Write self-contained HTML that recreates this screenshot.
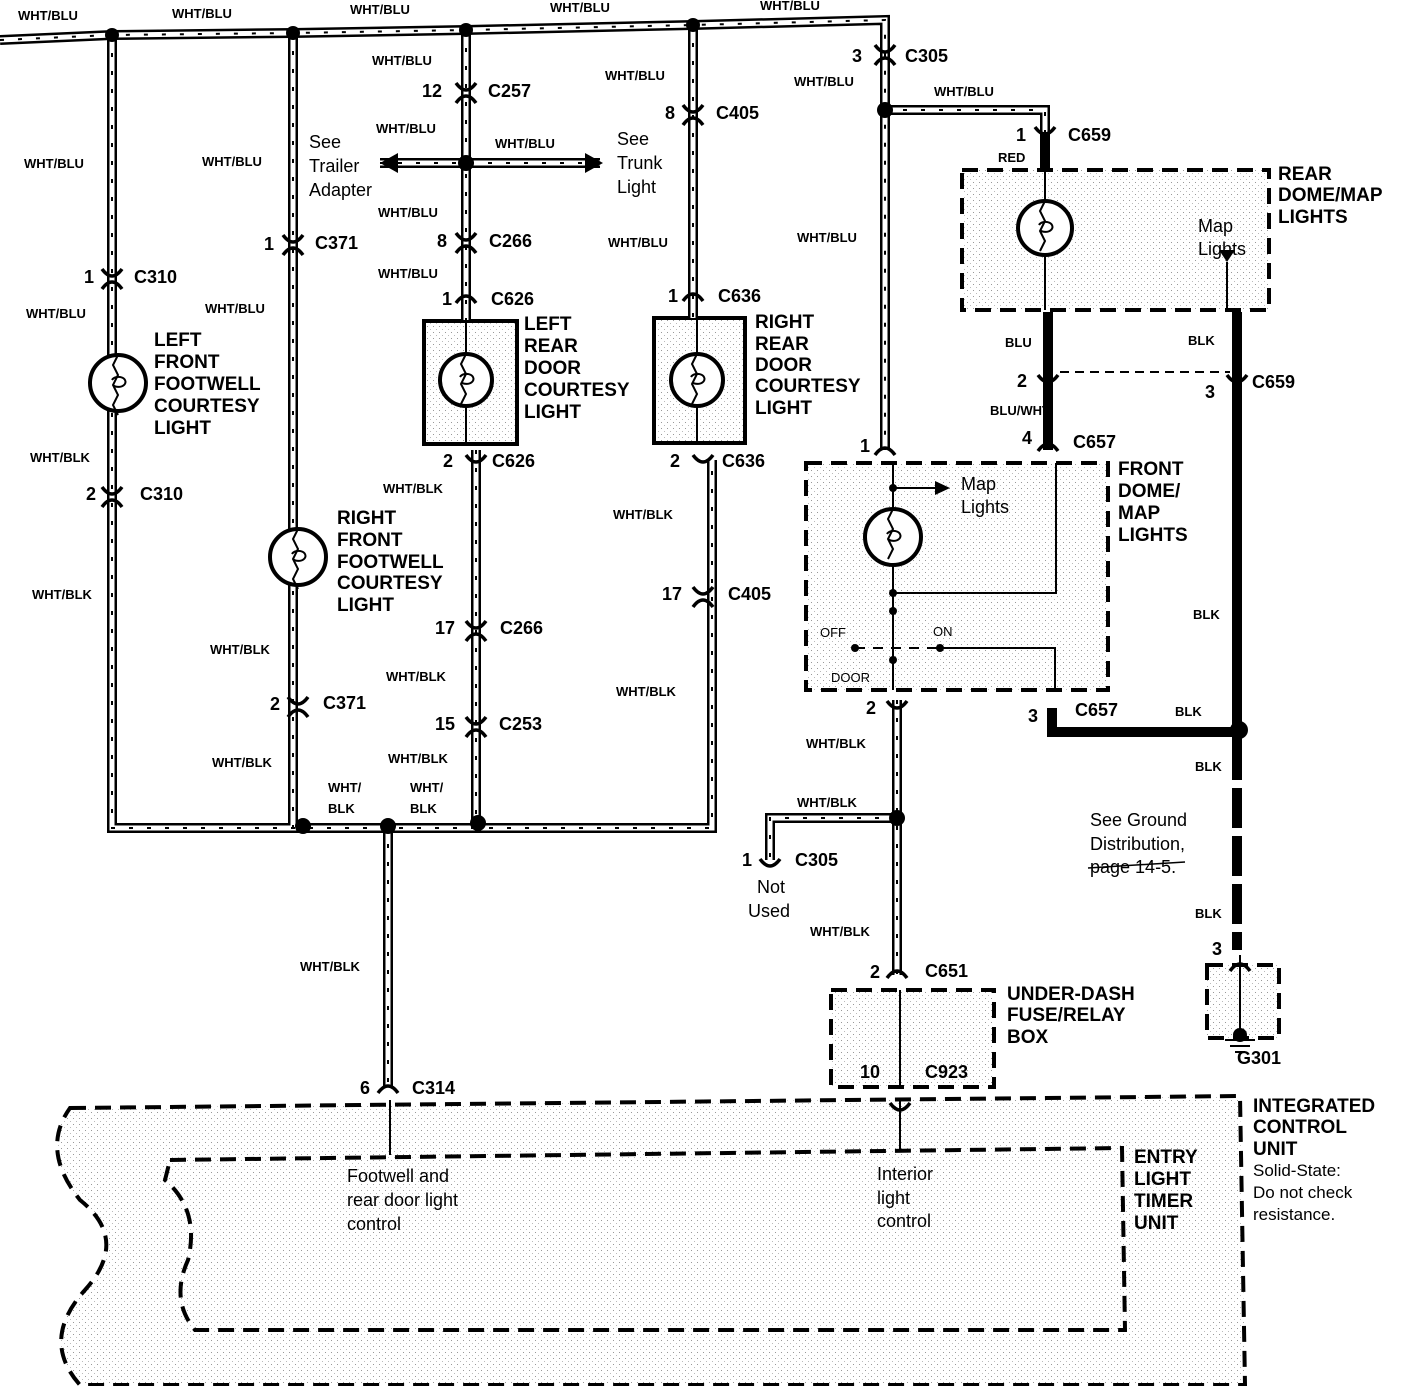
<!DOCTYPE html>
<html><head><meta charset="utf-8"><style>
html,body{margin:0;padding:0;background:#fff}
svg{display:block}
text{font-family:"Liberation Sans",sans-serif;fill:#000}
.wl{font-size:13px;font-weight:bold}
.cn{font-size:18px;font-weight:bold}
.nm{font-size:19px;font-weight:bold}
.nt{font-size:18px}
.w1{fill:none;stroke:#000;stroke-width:10}
.w2{fill:none;stroke:#fff;stroke-width:5}
.w3{fill:none;stroke:#000;stroke-width:2;stroke-dasharray:4 14}
.t{fill:none;stroke:#000;stroke-width:2}
.box{fill:url(#dots);stroke:#000;stroke-width:4;stroke-dasharray:16 9}
.cc{fill:none;stroke:#000;stroke-width:3.5}
</style></head><body>
<svg width="1408" height="1386" viewBox="0 0 1408 1386" xmlns="http://www.w3.org/2000/svg">
<defs>
<pattern id="dots" width="6" height="6" patternUnits="userSpaceOnUse"><rect width="6" height="6" fill="#fff"/><rect x="1" y="2" width="1" height="1" fill="#999"/><rect x="4" y="5" width="1" height="1" fill="#bbb"/></pattern>
<path id="wa" d="M0,40 L112,35 L293,33 L466,30 L693,25 L885,20 L885,450"/>
<path id="wb" d="M112,35 V828 H712 V460"/>
<path id="wc" d="M293,33 V828"/>
<path id="wd" d="M466,30 V320 M476,450 V823"/>
<path id="we" d="M693,25 V318"/>
<path id="wf" d="M885,110 H1045 V135"/>
<path id="wg" d="M897,700 V975 M897,818 H770 V860"/>
<path id="wh" d="M388,826 V1087"/>
<path id="wi" d="M380,163 H600"/>
</defs>

<!-- boxes -->
<path class="box" d="M70,1108 L1240,1096 L1245,1385 L80,1385 Q40,1340 85,1290 Q130,1240 80,1200 Q40,1150 70,1108 Z"/>
<path class="box" d="M170,1160 L1122,1148 L1125,1330 L195,1330 Q170,1300 188,1260 Q200,1210 165,1180 Z"/>
<rect class="box" x="962" y="170" width="307" height="140"/>
<rect class="box" x="806" y="463" width="302" height="227"/>
<rect class="box" x="831" y="990" width="163" height="97"/>
<rect class="box" x="1207" y="965" width="72" height="73"/>
<rect x="424" y="321" width="93" height="123" fill="url(#dots)" stroke="#000" stroke-width="4"/>
<rect x="654" y="318" width="91" height="125" fill="url(#dots)" stroke="#000" stroke-width="4"/>

<!-- wires -->
<g class="w1"><use href="#wa"/><use href="#wb"/><use href="#wc"/><use href="#wd"/><use href="#we"/><use href="#wf"/><use href="#wg"/><use href="#wh"/><use href="#wi"/></g>
<g class="w2"><use href="#wa"/><use href="#wb"/><use href="#wc"/><use href="#wd"/><use href="#we"/><use href="#wf"/><use href="#wg"/><use href="#wh"/><use href="#wi"/></g>
<g class="w3"><use href="#wa"/><use href="#wb"/><use href="#wc"/><use href="#wd"/><use href="#we"/><use href="#wf"/><use href="#wg"/><use href="#wh"/><use href="#wi"/></g>
<polygon points="380,163 398,153 398,173"/><polygon points="603,163 585,153 585,173"/>

<!-- thick black wires -->
<g fill="none" stroke="#000" stroke-width="10">
<path d="M1045,135 V172"/><path d="M1048,312 V450"/><path d="M1237,312 V740"/>
<path d="M1237,740 V950" stroke-dasharray="40 8"/><path d="M1052,708 V732 H1237"/>
</g>
<path d="M1060,372 H1230" class="t" stroke-dasharray="9 6"/>

<!-- thin internal lines -->
<g class="t">
<path d="M1045,172 V310"/><path d="M1227,262 V312"/>
<path d="M466,321 V444 M697,318 V443"/>
<path d="M893,463 V690"/><path d="M893,488 H935"/><path d="M893,593 H1056 V463"/>
<path d="M940,648 H1055 V688"/><path d="M855,648 L940,648" stroke-dasharray="10 8"/>
<path d="M900,990 V1087"/><path d="M900,1100 V1150 M390,1100 V1155"/>
<path d="M1240,955 V1030 M1225,1040 H1255 M1230,1046 H1250 M1235,1052 H1245"/>
</g>
<polygon points="935,481 950,488 935,495"/><polygon points="1219,250 1235,250 1227,262"/>
<g><circle cx="855" cy="648" r="4"/><circle cx="940" cy="648" r="4"/><circle cx="893" cy="611" r="4"/><circle cx="893" cy="660" r="4"/><circle cx="893" cy="488" r="4"/><circle cx="893" cy="593" r="4"/><circle cx="1240" cy="1035" r="7"/></g>

<!-- bulbs -->
<g fill="#fff" stroke="#000" stroke-width="4">
<circle cx="118" cy="383" r="28"/><circle cx="298" cy="557" r="28"/><circle cx="466" cy="380" r="26"/><circle cx="697" cy="380" r="26"/><circle cx="893" cy="537" r="28"/><circle cx="1045" cy="228" r="27"/>
</g>
<g fill="none" stroke="#000" stroke-width="2">
<path d="M118,355 l-5,10 l5,10 l-5,10 l5,10 l-5,10 l5,10 M112,380 a7,5 0 1 1 1,5"/>
<path d="M298,529 l-5,10 l5,10 l-5,10 l5,10 l-5,10 l5,10 M292,554 a7,5 0 1 1 1,5"/>
<path d="M466,354 l-5,10 l5,10 l-5,10 l5,10 l-5,10 M460,377 a7,5 0 1 1 1,5"/>
<path d="M697,354 l-5,10 l5,10 l-5,10 l5,10 l-5,10 M691,377 a7,5 0 1 1 1,5"/>
<path d="M893,509 l-5,10 l5,10 l-5,10 l5,10 l-5,10 M887,534 a7,5 0 1 1 1,5"/>
<path d="M1045,201 l-5,10 l5,10 l-5,10 l5,10 l-5,10 M1039,225 a7,5 0 1 1 1,5"/>
</g>

<!-- connectors: cup above, arch below -->
<g class="cc">
<path d="M456,83 Q466,97 476,83 M456,103 Q466,89 476,103"/>
<path d="M683,105 Q693,119 703,105 M683,125 Q693,111 703,125"/>
<path d="M875,45 Q885,59 895,45 M875,65 Q885,51 895,65"/>
<path d="M102,269 Q112,283 122,269 M102,289 Q112,275 122,289"/>
<path d="M283,235 Q293,249 303,235 M283,255 Q293,241 303,255"/>
<path d="M456,233 Q466,247 476,233 M456,253 Q466,239 476,253"/>
<path d="M456,303 Q466,289 476,303"/><path d="M683,301 Q693,287 703,301"/>
<path d="M466,455 Q476,469 486,455"/><path d="M693,455 Q703,469 713,455"/>
<path d="M102,487 Q112,501 122,487 M102,507 Q112,493 122,507"/>
<path d="M466,621 Q476,635 486,621 M466,641 Q476,627 486,641"/>
<path d="M466,717 Q476,731 486,717 M466,737 Q476,723 486,737"/>
<path d="M693,587 Q703,601 713,587 M693,607 Q703,593 713,607"/>
<path d="M288,697 Q298,711 308,697 M288,717 Q298,703 308,717"/>
<path d="M1035,127 Q1045,141 1055,127"/>
<path d="M1038,375 Q1048,389 1058,375"/><path d="M1227,375 Q1237,389 1247,375"/>
<path d="M1038,451 Q1048,437 1058,451"/><path d="M875,455 Q885,441 895,455"/>
<path d="M887,701 Q897,715 907,701"/><path d="M760,859 Q770,873 780,859"/>
<path d="M887,978 Q897,964 907,978"/><path d="M890,1103 Q900,1117 910,1103"/>
<path d="M378,1093 Q388,1079 398,1093"/><path d="M1230,971 Q1240,957 1250,971"/>
</g>
<g><circle cx="112" cy="35" r="7"/><circle cx="293" cy="33" r="7"/><circle cx="466" cy="30" r="7"/><circle cx="693" cy="25" r="7"/><circle cx="466" cy="163" r="8"/><circle cx="885" cy="110" r="8"/><circle cx="303" cy="826" r="8"/><circle cx="388" cy="826" r="8"/><circle cx="478" cy="823" r="8"/><circle cx="897" cy="818" r="8"/><circle cx="1239" cy="730" r="9"/></g>

<!-- wire labels -->
<g class="wl">
<text x="18" y="20">WHT/BLU</text><text x="172" y="18">WHT/BLU</text><text x="350" y="14">WHT/BLU</text><text x="550" y="12">WHT/BLU</text><text x="760" y="10">WHT/BLU</text>
<text x="372" y="65">WHT/BLU</text><text x="605" y="80">WHT/BLU</text><text x="794" y="86">WHT/BLU</text><text x="934" y="96">WHT/BLU</text>
<text x="376" y="133">WHT/BLU</text><text x="495" y="148">WHT/BLU</text><text x="24" y="168">WHT/BLU</text><text x="202" y="166">WHT/BLU</text>
<text x="378" y="217">WHT/BLU</text><text x="608" y="247">WHT/BLU</text><text x="797" y="242">WHT/BLU</text><text x="378" y="278">WHT/BLU</text>
<text x="205" y="313">WHT/BLU</text><text x="26" y="318">WHT/BLU</text><text x="30" y="462">WHT/BLK</text><text x="383" y="493">WHT/BLK</text>
<text x="613" y="519">WHT/BLK</text><text x="32" y="599">WHT/BLK</text><text x="210" y="654">WHT/BLK</text><text x="386" y="681">WHT/BLK</text>
<text x="616" y="696">WHT/BLK</text><text x="212" y="767">WHT/BLK</text><text x="388" y="763">WHT/BLK</text><text x="806" y="748">WHT/BLK</text>
<text x="328" y="792">WHT/</text><text x="328" y="813">BLK</text><text x="410" y="792">WHT/</text><text x="410" y="813">BLK</text>
<text x="797" y="807">WHT/BLK</text><text x="810" y="936">WHT/BLK</text><text x="300" y="971">WHT/BLK</text>
<text x="998" y="162">RED</text><text x="1005" y="347">BLU</text><text x="1188" y="345">BLK</text><text x="990" y="415">BLU/WHT</text>
<text x="1193" y="619">BLK</text><text x="1175" y="716">BLK</text><text x="1195" y="771">BLK</text><text x="1195" y="918">BLK</text>
<text x="820" y="637" font-weight="normal">OFF</text><text x="933" y="636" font-weight="normal">ON</text><text x="831" y="682" font-weight="normal">DOOR</text>
</g>

<!-- connector labels -->
<g class="cn">
<text x="852" y="62">3</text><text x="905" y="62">C305</text>
<text x="422" y="97">12</text><text x="488" y="97">C257</text>
<text x="665" y="119">8</text><text x="716" y="119">C405</text>
<text x="1016" y="141">1</text><text x="1068" y="141">C659</text>
<text x="264" y="250">1</text><text x="315" y="249">C371</text>
<text x="437" y="247">8</text><text x="489" y="247">C266</text>
<text x="84" y="283">1</text><text x="134" y="283">C310</text>
<text x="442" y="305">1</text><text x="491" y="305">C626</text>
<text x="668" y="302">1</text><text x="718" y="302">C636</text>
<text x="1017" y="387">2</text><text x="1205" y="398">3</text><text x="1252" y="388">C659</text>
<text x="860" y="452">1</text><text x="1022" y="444">4</text><text x="1073" y="448">C657</text>
<text x="443" y="467">2</text><text x="492" y="467">C626</text>
<text x="670" y="467">2</text><text x="722" y="467">C636</text>
<text x="86" y="500">2</text><text x="140" y="500">C310</text>
<text x="662" y="600">17</text><text x="728" y="600">C405</text>
<text x="435" y="634">17</text><text x="500" y="634">C266</text>
<text x="270" y="710">2</text><text x="323" y="709">C371</text>
<text x="866" y="714">2</text><text x="1028" y="722">3</text><text x="1075" y="716">C657</text>
<text x="435" y="730">15</text><text x="499" y="730">C253</text>
<text x="742" y="866">1</text><text x="795" y="866">C305</text>
<text x="870" y="978">2</text><text x="925" y="977">C651</text>
<text x="860" y="1078">10</text><text x="925" y="1078">C923</text>
<text x="360" y="1094">6</text><text x="412" y="1094">C314</text>
<text x="1212" y="955">3</text><text x="1237" y="1064">G301</text>
</g>

<!-- names -->
<g class="nm">
<text x="154" y="346">LEFT</text><text x="154" y="368">FRONT</text><text x="154" y="390">FOOTWELL</text><text x="154" y="412">COURTESY</text><text x="154" y="434">LIGHT</text>
<text x="337" y="524">RIGHT</text><text x="337" y="546">FRONT</text><text x="337" y="568">FOOTWELL</text><text x="337" y="589">COURTESY</text><text x="337" y="611">LIGHT</text>
<text x="524" y="330">LEFT</text><text x="524" y="352">REAR</text><text x="524" y="374">DOOR</text><text x="524" y="396">COURTESY</text><text x="524" y="418">LIGHT</text>
<text x="755" y="328">RIGHT</text><text x="755" y="350">REAR</text><text x="755" y="371">DOOR</text><text x="755" y="392">COURTESY</text><text x="755" y="414">LIGHT</text>
<text x="1278" y="180">REAR</text><text x="1278" y="201">DOME/MAP</text><text x="1278" y="223">LIGHTS</text>
<text x="1118" y="475">FRONT</text><text x="1118" y="497">DOME/</text><text x="1118" y="519">MAP</text><text x="1118" y="541">LIGHTS</text>
<text x="1007" y="1000">UNDER-DASH</text><text x="1007" y="1021">FUSE/RELAY</text><text x="1007" y="1043">BOX</text>
<text x="1253" y="1112">INTEGRATED</text><text x="1253" y="1133">CONTROL</text><text x="1253" y="1155">UNIT</text>
<text x="1134" y="1163">ENTRY</text><text x="1134" y="1185">LIGHT</text><text x="1134" y="1207">TIMER</text><text x="1134" y="1229">UNIT</text>
</g>
<g class="nt">
<text x="309" y="148">See</text><text x="309" y="172">Trailer</text><text x="309" y="196">Adapter</text>
<text x="617" y="145">See</text><text x="617" y="169">Trunk</text><text x="617" y="193">Light</text>
<text x="1198" y="232">Map</text><text x="1198" y="255">Lights</text>
<text x="961" y="490">Map</text><text x="961" y="513">Lights</text>
<text x="757" y="893">Not</text><text x="748" y="917">Used</text>
<text x="1090" y="826">See Ground</text><text x="1090" y="850">Distribution,</text><text x="1090" y="873">page 14-5.</text>
<text x="347" y="1182">Footwell and</text><text x="347" y="1206">rear door light</text><text x="347" y="1230">control</text>
<text x="877" y="1180">Interior</text><text x="877" y="1204">light</text><text x="877" y="1227">control</text>
<text x="1253" y="1176" font-size="17">Solid-State:</text><text x="1253" y="1198" font-size="17">Do not check</text><text x="1253" y="1220" font-size="17">resistance.</text>
</g>
<path d="M1088,868 L1185,862" stroke="#000" stroke-width="1.5"/>
</svg>
</body></html>
